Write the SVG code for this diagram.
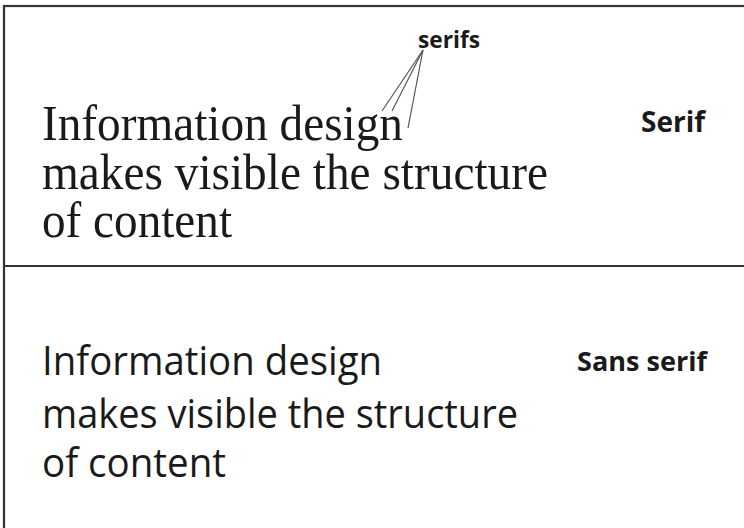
<svg xmlns="http://www.w3.org/2000/svg" width="744" height="528" viewBox="0 0 744 528">
<style>
.frame{fill:none;stroke:#333;stroke-width:2.2}
.serif{font-family:"Liberation Serif","DejaVu Serif",serif;font-size:51px;fill:#1a1a1a}
.sans{font-family:"Open Sans","Noto Sans",sans-serif;font-size:41px;fill:#1a1a1a}
.lbl{font-family:"Open Sans","Noto Sans",sans-serif;font-weight:bold;fill:#1a1a1a}
.leader{stroke:#555;stroke-width:1.2;fill:none}
</style>
<rect width="744" height="528" fill="#fff"/>
<g id="frame">
<rect class="frame" x="4" y="6" width="800" height="600"/>
<line class="frame" x1="4" y1="266" x2="800" y2="266"/>
</g>
<g id="serif-sample">
<text class="serif" x="42" y="140" textLength="361" lengthAdjust="spacingAndGlyphs">Information design</text>
<text class="serif" x="42" y="189" textLength="506" lengthAdjust="spacingAndGlyphs">makes visible the structure</text>
<text class="serif" x="42" y="237" textLength="190" lengthAdjust="spacingAndGlyphs">of content</text>
</g>
<g id="serif-label"><text class="lbl" x="641" y="132" font-size="28" textLength="64" lengthAdjust="spacingAndGlyphs">Serif</text></g>
<g id="serifs-callout"><text class="lbl" x="418" y="48" font-size="23" textLength="62" lengthAdjust="spacingAndGlyphs">serifs</text></g>
<g id="sans-sample">
<text class="sans" x="42" y="375" textLength="340" lengthAdjust="spacingAndGlyphs">Information design</text>
<text class="sans" x="42" y="428" textLength="476" lengthAdjust="spacingAndGlyphs">makes visible the structure</text>
<text class="sans" x="42" y="477" textLength="184" lengthAdjust="spacingAndGlyphs">of content</text>
</g>
<g id="sans-label"><text class="lbl" x="577" y="371" font-size="27" textLength="130" lengthAdjust="spacingAndGlyphs">Sans serif</text></g>
<g id="connectors">
<line class="leader" x1="423" y1="50" x2="382" y2="111"/>
<line class="leader" x1="423" y1="50" x2="392" y2="111"/>
<line class="leader" x1="423" y1="50" x2="408" y2="128"/>
</g>
</svg>
